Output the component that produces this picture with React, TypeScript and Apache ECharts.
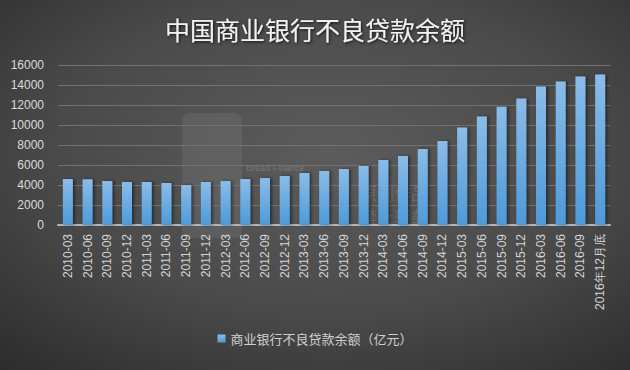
import React, { useEffect, useRef } from "react";
import * as echarts from "echarts";

const categories = [
  "2010-03", "2010-06", "2010-09", "2010-12",
  "2011-03", "2011-06", "2011-09", "2011-12",
  "2012-03", "2012-06", "2012-09", "2012-12",
  "2013-03", "2013-06", "2013-09", "2013-12",
  "2014-03", "2014-06", "2014-09", "2014-12",
  "2015-03", "2015-06", "2015-09", "2015-12",
  "2016-03", "2016-06", "2016-09", "2016年12月底",
];

const npl = [
  4600, 4570, 4400, 4300,
  4300, 4200, 4000, 4300,
  4400, 4600, 4700, 4900,
  5200, 5400, 5600, 5900,
  6500, 6900, 7600, 8400,
  9750, 10850, 11830, 12650,
  13850, 14340, 14860, 15060,
];

const seriesName = "商业银行不良贷款余额（亿元）";
const titleText = "中国商业银行不良贷款余额";

export default function App() {
  const ref = useRef<HTMLDivElement>(null);
  useEffect(() => {
    document.body.style.margin = "0";
    const chart = echarts.init(ref.current!, null, { renderer: "svg" });
    chart.setOption({
      animation: false,
      backgroundColor: new echarts.graphic.RadialGradient(0.52, 0.42, 0.78, [
        { offset: 0, color: "#5c5c5c" },
        { offset: 0.55, color: "#4a4a4a" },
        { offset: 1, color: "#2c2c2c" },
      ]),
      title: {
        text: titleText,
        left: "center",
        top: 11,
        textStyle: {
          color: "#f2f2f2",
          fontSize: 25,
          fontWeight: "normal",
          fontFamily: "Noto Sans CJK SC",
          textShadowColor: "rgba(0,0,0,0.8)",
          textShadowBlur: 3,
          textShadowOffsetX: 1,
          textShadowOffsetY: 1,
        },
      },
      legend: {
        bottom: 20,
        left: "center",
        itemWidth: 8,
        itemHeight: 8,
        icon: "rect",
        itemGap: 4,
        textStyle: {
          color: "#d0d0d0",
          fontSize: 13,
          fontFamily: "Noto Sans CJK SC",
        },
        data: [seriesName],
      },
      grid: { left: 58, right: 20, top: 65, bottom: 145, containLabel: false },
      xAxis: {
        type: "category",
        data: categories,
        axisLine: { show: true, lineStyle: { color: "#b4b4b4", width: 2 } },
        axisTick: { show: false },
        axisLabel: {
          interval: 0,
          rotate: 90,
          color: "#d4d4d4",
          fontSize: 12,
          fontFamily: "Liberation Sans",
          margin: 9,
        },
      },
      yAxis: {
        type: "value",
        min: 0,
        max: 16000,
        interval: 2000,
        axisLine: { show: false },
        axisTick: { show: false },
        splitLine: { lineStyle: { color: "#727272", width: 1 } },
        axisLabel: {
          color: "#dcdcdc",
          fontSize: 12,
          fontFamily: "Liberation Sans",
          margin: 14,
          formatter: (v: number) => String(v),
        },
      },
      graphic: [
        {
          type: "rect",
          left: 182,
          top: 113,
          shape: { width: 60, height: 125, r: 8 },
          style: { fill: "rgba(255,255,255,0.07)" },
          silent: true,
          z: 0,
        },
        {
          type: "text",
          left: 246,
          top: 163,
          style: {
            text: "Bread Finance",
            fill: "rgba(255,255,255,0.2)",
            fontSize: 9,
            fontFamily: "Liberation Sans",
          },
          silent: true,
        },
        {
          type: "text",
          left: 360,
          top: 180,
          style: {
            text: "原创作品\n禁止转载",
            fill: "rgba(255,255,255,0.15)",
            fontSize: 17,
            lineHeight: 24,
            fontFamily: "Noto Sans CJK SC",
          },
          silent: true,
        },
      ],
      series: [
        {
          name: seriesName,
          type: "bar",
          data: npl,
          barWidth: 10,
          itemStyle: {
            color: new echarts.graphic.LinearGradient(0, 0, 0, 1, [
              { offset: 0, color: "#8abce8" },
              { offset: 1, color: "#4d9ada" },
            ]),
            shadowColor: "rgba(0,0,0,0.45)",
            shadowBlur: 3,
            shadowOffsetX: 2,
            shadowOffsetY: 0,
          },
        },
      ],
    });
    return () => chart.dispose();
  }, []);
  return <div ref={ref} style={{ width: 630, height: 370 }} />;
}
